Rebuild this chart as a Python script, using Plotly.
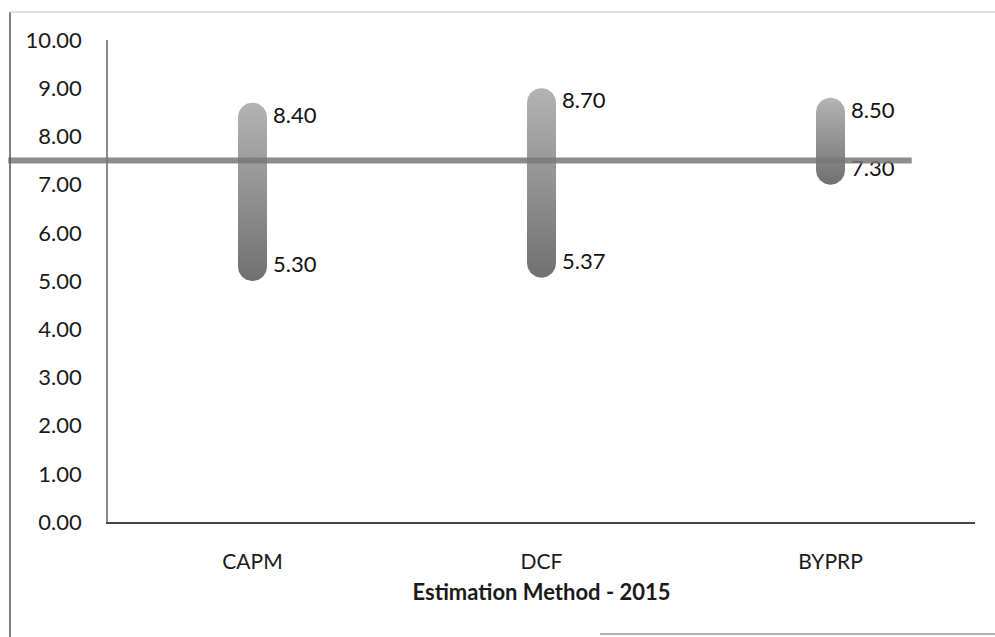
import numpy as np
import plotly.graph_objects as go

# Cost-of-equity estimate ranges by method
methods = ["CAPM", "DCF", "BYPRP"]
high_values = [8.40, 8.70, 8.50]
low_values = [5.30, 5.37, 7.30]
reference_level = 7.50

y_ticks = [0, 1, 2, 3, 4, 5, 6, 7, 8, 9, 10]

W, H = 995, 637
M_L, M_R, M_T, M_B = 108, 20, 40, 115
plot_w = W - M_L - M_R
plot_h = H - M_T - M_B
x_range = [-0.5, 2.5]
y_range = [0, 10]
px_per_x = plot_w / (x_range[1] - x_range[0])
px_per_y = plot_h / (y_range[1] - y_range[0])

cap_half_px = 14.5
rx = cap_half_px / px_per_x
ry = cap_half_px / px_per_y

fig = go.Figure()

theta_top = np.linspace(0, np.pi, 40)
theta_bot = np.linspace(np.pi, 2 * np.pi, 40)
for i, (lo, hi) in enumerate(zip(low_values, high_values)):
    # capsule outline: rounded cap above the high value, rounded cap below the low value
    xs = np.concatenate([i + rx * np.cos(theta_top), i + rx * np.cos(theta_bot)])
    ys = np.concatenate([hi + ry * np.sin(theta_top), lo + ry * np.sin(theta_bot)])
    xs = np.append(xs, xs[0])
    ys = np.append(ys, ys[0])
    fig.add_trace(go.Scatter(
        x=xs, y=ys, mode="lines", fill="toself",
        line=dict(width=0, color="rgba(0,0,0,0)"),
        fillgradient=dict(type="vertical",
                          colorscale=[[0, "#707070"], [0.2, "#7e7e7e"], [1, "#b3b3b3"]]),
        hoverinfo="skip", showlegend=False,
    ))

# value labels beside each end of the ranges
label_x = [i + rx + 6 / px_per_x for i in range(len(methods))]
fig.add_trace(go.Scatter(
    x=label_x + label_x,
    y=high_values + low_values,
    mode="text",
    text=[f"{v:.2f}" for v in high_values + low_values],
    textposition="middle right",
    textfont=dict(family="Lato", size=22, color="#111111"),
    cliponaxis=False, hoverinfo="skip", showlegend=False,
))

shapes = [
    # horizontal reference level across the chart
    dict(type="line", xref="paper", yref="y",
         x0=-0.115, x1=0.927, y0=reference_level, y1=reference_level,
         line=dict(color="rgba(120,120,120,0.85)", width=6), layer="above"),
    # outer frame remnants
    dict(type="line", xref="paper", yref="paper", x0=-98 / plot_w, x1=-98 / plot_w,
         y0=(H - M_B - 637) / plot_h, y1=(H - M_B - 12) / plot_h,
         line=dict(color="#555555", width=1.5)),
    dict(type="line", xref="paper", yref="paper", x0=-98 / plot_w, x1=(W - M_L) / plot_w,
         y0=(H - M_B - 12) / plot_h, y1=(H - M_B - 12) / plot_h,
         line=dict(color="#d9d9d9", width=1.5)),
    dict(type="line", xref="paper", yref="paper", x0=(600 - M_L) / plot_w, x1=(W - M_L) / plot_w,
         y0=(H - M_B - 634) / plot_h, y1=(H - M_B - 634) / plot_h,
         line=dict(color="#9a9a9a", width=1.5)),
]

fig.update_layout(
    width=W, height=H,
    margin=dict(l=M_L, r=M_R, t=M_T, b=M_B, pad=0),
    paper_bgcolor="white", plot_bgcolor="white",
    showlegend=False,
    shapes=shapes,
    font=dict(family="Lato", color="#1a1a1a"),
    xaxis=dict(
        range=x_range, tickmode="array", tickvals=list(range(len(methods))), ticktext=methods,
        showgrid=False, zeroline=False, showline=True, linecolor="#444444", linewidth=2,
        ticks="", tickfont=dict(family="Lato", size=21, color="#1a1a1a"),
        ticklabelstandoff=20,
        title=dict(text="<b>Estimation Method - 2015</b>",
                   font=dict(family="Lato", size=22, color="#1a1a1a"), standoff=12),
    ),
    yaxis=dict(
        range=y_range, tickmode="array", tickvals=y_ticks,
        ticktext=[f"{v:.2f}" for v in y_ticks],
        showgrid=False, zeroline=False, showline=True, linecolor="#8c8c8c", linewidth=1.5,
        ticks="", tickfont=dict(family="Lato", size=22, color="#1a1a1a"),
        ticklabelstandoff=20,
    ),
)

fig.write_html("out.html")
